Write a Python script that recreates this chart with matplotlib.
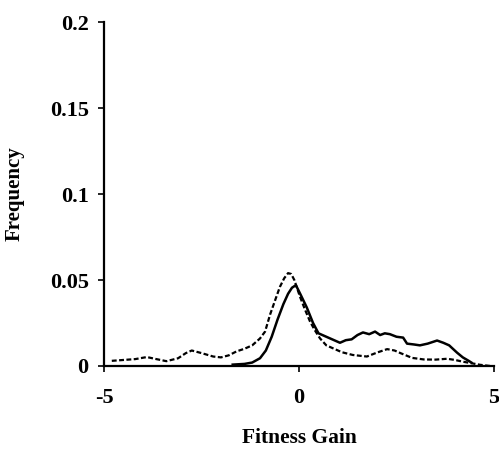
import matplotlib
matplotlib.use('Agg')
import matplotlib.pyplot as plt

# ── Data ───────────────────────────────────────────────────────────────────
dash_x = [-4.8, -4.5, -4.2, -3.9, -3.7, -3.4, -3.1, -2.9, -2.75, -2.5, -2.2,
          -2.0, -1.8, -1.6, -1.4, -1.2, -1.0, -0.87, -0.74, -0.6, -0.49,
          -0.38, -0.28, -0.2, -0.12, 0.03, 0.15, 0.28, 0.4, 0.54, 0.7, 0.9,
          1.1, 1.38, 1.74, 2.0, 2.26, 2.45, 2.6, 2.9, 3.2, 3.5, 3.8, 4.0,
          4.2, 4.45, 4.64, 4.9]
dash_y = [0.003, 0.0035, 0.004, 0.0052, 0.0042, 0.0028, 0.0045, 0.0075,
          0.009, 0.0075, 0.0055, 0.005, 0.0062, 0.0085, 0.010, 0.012, 0.016,
          0.020, 0.030, 0.039, 0.046, 0.051, 0.054, 0.0535, 0.050, 0.040,
          0.033, 0.026, 0.021, 0.016, 0.012, 0.010, 0.008, 0.0064, 0.0055,
          0.0078, 0.0098, 0.009, 0.0075, 0.0047, 0.0038, 0.0037, 0.0042,
          0.0035, 0.0025, 0.0015, 0.0007, 0.0]

solid_x = [-1.7, -1.4, -1.2, -1.0, -0.85, -0.7, -0.55, -0.4, -0.28, -0.18,
           -0.08, 0.03, 0.2, 0.36, 0.5, 0.7, 0.9, 1.05, 1.2, 1.35, 1.5, 1.64,
           1.8, 1.95, 2.08, 2.2, 2.33, 2.5, 2.67, 2.77, 2.95, 3.1, 3.3, 3.54,
           3.7, 3.85, 4.05, 4.2, 4.35, 4.42]
solid_y = [0.0008, 0.0012, 0.002, 0.0045, 0.009, 0.017, 0.027, 0.036, 0.042,
           0.0455, 0.047, 0.042, 0.034, 0.025, 0.019, 0.017, 0.015, 0.0135,
           0.015, 0.0155, 0.018, 0.0195, 0.0185, 0.020, 0.018, 0.019, 0.0185,
           0.017, 0.0165, 0.013, 0.0125, 0.012, 0.013, 0.0148, 0.0135, 0.012,
           0.0078, 0.005, 0.003, 0.002]

x_ticks = [-5, 0, 5]
x_labels = ['-5', '0', '5']
y_ticks = [0, 0.05, 0.1, 0.15, 0.2]
y_labels = ['0', '0.05', '0.1', '0.15', '0.2']

# ── Style ──────────────────────────────────────────────────────────────────
plt.rcParams.update({
    'font.family': 'serif',
    'font.serif': ['Liberation Serif', 'DejaVu Serif'],
    'font.weight': 'bold',
})

fig = plt.figure(figsize=(4.99, 4.5), dpi=100)
ax = fig.add_axes([0.2084, 0.1867, 0.7816, 0.7643])

ax.plot(dash_x, dash_y, color='black', lw=1.6, linestyle=(0, (2.2, 1.1)))
ax.plot(solid_x, solid_y, color='black', lw=1.8)

ax.set_xlim(-5, 5)
ax.set_ylim(0, 0.2)
ax.set_xticks(x_ticks)
ax.set_xticklabels(x_labels)
ax.set_yticks(y_ticks)
ax.set_yticklabels(y_labels)

for s in ['top', 'right']:
    ax.spines[s].set_visible(False)
for s in ['left', 'bottom']:
    ax.spines[s].set_linewidth(1.6)
    ax.spines[s].set_color('black')

ax.tick_params(axis='both', direction='out', length=4, width=1.2,
               labelsize=16)
ax.tick_params(axis='x', pad=12)
ax.tick_params(axis='y', pad=7)
for lbl in ax.get_xticklabels() + ax.get_yticklabels():
    lbl.set_fontweight('bold')

ax.set_xlabel('Fitness Gain', fontsize=15.5, fontweight='bold', labelpad=14)
ax.set_ylabel('Frequency', fontsize=15, fontweight='bold', labelpad=18)

fig.savefig('out.png', dpi=100, facecolor='white')
